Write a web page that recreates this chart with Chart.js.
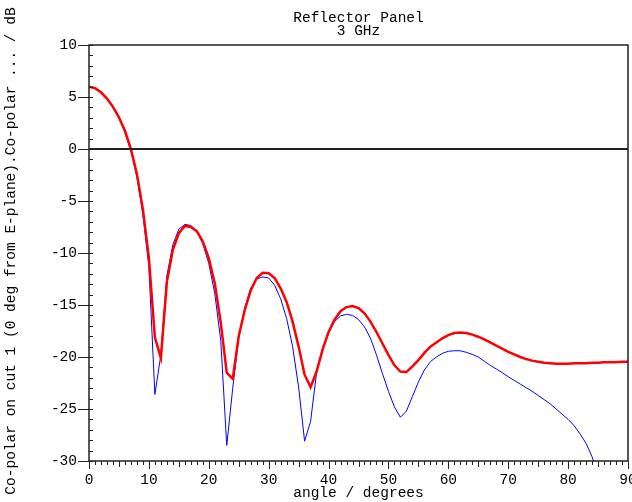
<!DOCTYPE html>
<html>
<head>
<meta charset="utf-8">
<script src="https://cdn.jsdelivr.net/npm/chart.js@4"></script>
<style>
  body { margin: 0; background: #fff; }
  canvas { display: block; }
</style>
</head>
<body>
<canvas id="patternChart" width="632" height="502"></canvas>
<script>
const angles = [
    0, 1, 2, 3, 4, 5, 6, 7, 8, 9,
    10, 11, 12, 13, 14, 15, 16, 17, 18, 19,
    20, 21, 22, 23, 24, 25, 26, 27, 28, 29,
    30, 31, 32, 33, 34, 35, 36, 37, 38, 39,
    40, 41, 42, 43, 44, 45, 46, 47, 48, 49,
    50, 51, 52, 53, 54, 55, 56, 57, 58, 59,
    60, 61, 62, 63, 64, 65, 66, 67, 68, 69,
    70, 71, 72, 73, 74, 75, 76, 77, 78, 79,
    80, 81, 82, 83, 84, 85, 86, 87, 88, 89, 90,
];

// thick red curve
const copolarRed = [
    6.0, 5.85, 5.45, 4.85, 4.05, 3.05, 1.75, 0.0, -2.4, -5.8,
    -10.5, -18.1, -20.1, -12.8, -9.7, -8.1, -7.4, -7.5, -7.9, -8.9,
    -10.5, -12.9, -16.7, -21.5, -22.1, -18.0, -15.5, -13.6, -12.4, -11.9,
    -11.95, -12.4, -13.4, -14.7, -16.6, -19.0, -21.7, -22.9, -21.4, -19.3,
    -17.6, -16.4, -15.6, -15.2, -15.1, -15.3, -15.8, -16.6, -17.6, -18.7,
    -19.8, -20.8, -21.4, -21.45, -20.9, -20.3, -19.6, -19.0, -18.6, -18.2,
    -17.9, -17.7, -17.65, -17.7, -17.85, -18.05, -18.3, -18.6, -18.9, -19.2,
    -19.5, -19.75, -20.0, -20.2, -20.35, -20.45, -20.55, -20.6, -20.65, -20.65,
    -20.65, -20.6, -20.6, -20.6, -20.55, -20.55, -20.5, -20.5, -20.5, -20.45, -20.45,
];

// thin blue curve
const copolarBlue = [
    6.0, 5.85, 5.45, 4.85, 4.05, 3.0, 1.6, -0.2, -2.7, -6.3,
    -11.3, -23.6, -19.8, -12.2, -9.2, -7.7, -7.25, -7.35, -7.9, -9.1,
    -11.0, -13.9, -18.4, -28.5, -23.0, -18.2, -15.3, -13.4, -12.5, -12.3,
    -12.4, -13.1, -14.4, -16.3, -19.0, -22.9, -28.1, -26.2, -21.5, -19.3,
    -17.7, -16.6, -16.05, -15.9, -16.0, -16.4, -17.1, -18.2, -19.8, -21.6,
    -23.3, -24.8, -25.8, -25.2, -23.8, -22.4, -21.25, -20.45, -20.0, -19.65,
    -19.45, -19.4, -19.4, -19.55, -19.75, -20.0, -20.4, -20.8, -21.15, -21.5,
    -21.9, -22.25, -22.6, -22.95, -23.3, -23.7, -24.1, -24.5, -25.0, -25.5,
    -26.0, -26.6, -27.4, -28.3, -29.6, -31.3, -33.3, -35.8, -38.8, -42.5, -47.0,
];

const xTicks = [0, 10, 20, 30, 40, 50, 60, 70, 80, 90];
const yTicks = [-30, -25, -20, -15, -10, -5, 0, 5, 10];
const titleLines = ["Reflector Panel", "3 GHz"];
const xTitle = "angle / degrees";
const yTitle = "Co-polar on cut 1 (0 deg from E-plane).Co-polar ... / dB";

const FAMILY = "'Liberation Mono', 'DejaVu Sans Mono', monospace";
const FONT = "14.5px " + FAMILY;

const framePlugin = {
    id: "frame",
    afterDatasetsDraw(chart) {
        const ctx = chart.ctx;
        const a = chart.chartArea;
        const xs = chart.scales.x;
        const ys = chart.scales.y;
        ctx.save();

        // zero line
        ctx.strokeStyle = "#222";
        ctx.lineWidth = 2;
        const y0 = Math.round(ys.getPixelForValue(0));
        ctx.beginPath();
        ctx.moveTo(a.left, y0);
        ctx.lineTo(a.right, y0);
        ctx.stroke();

        // frame
        ctx.lineWidth = 1.5;
        ctx.strokeRect(a.left, a.top, a.right - a.left, a.bottom - a.top);

        // tick marks
        ctx.lineWidth = 1;
        ctx.beginPath();
        for (let v = 0; v <= 90; v++) {
            const px = Math.round(xs.getPixelForValue(v)) + 0.5;
            const len = v % 10 === 0 ? 8 : v % 5 === 0 ? 6 : 4;
            ctx.moveTo(px, a.bottom);
            ctx.lineTo(px, a.bottom + len);
        }
        for (let v = -30; v <= 10; v++) {
            const py = Math.round(ys.getPixelForValue(v)) + 0.5;
            ctx.moveTo(a.left, py);
            ctx.lineTo(a.left + 4, py);
            if (v % 5 === 0) {
                ctx.moveTo(a.left - 11, py);
                ctx.lineTo(a.left, py);
            }
        }
        ctx.stroke();

        // titles
        ctx.fillStyle = "#000";
        ctx.font = FONT;
        ctx.textAlign = "center";
        ctx.textBaseline = "middle";
        const cx = (a.left + a.right) / 2;
        ctx.fillText(titleLines[0], cx, 18);
        ctx.fillText(titleLines[1], cx, 31);
        ctx.fillText(xTitle, cx, 493);

        ctx.translate(11, (a.top + a.bottom) / 2 - 2);
        ctx.rotate(-Math.PI / 2);
        ctx.fillText(yTitle, 0, 0);
        ctx.restore();
    },
};

document.addEventListener("DOMContentLoaded", function () {
    const ctx = document.getElementById("patternChart");
    if (!ctx) return;

    new Chart(ctx, {
        type: "line",
        data: {
            datasets: [
                {
                    label: "Co-polar 2",
                    data: angles.map((a, i) => ({ x: a, y: copolarRed[i] })),
                    borderColor: "#ff0000",
                    borderWidth: 2.5,
                    pointRadius: 0,
                    tension: 0,
                    fill: false,
                    clip: 0,
                },
                {
                    label: "Co-polar 1",
                    data: angles.map((a, i) => ({ x: a, y: copolarBlue[i] })),
                    borderColor: "#0000ff",
                    borderWidth: 1,
                    pointRadius: 0,
                    tension: 0,
                    fill: false,
                    clip: 0,
                },
            ],
        },
        options: {
            responsive: false,
            animation: false,
            layout: {
                padding: { top: 45, right: 4, left: 0, bottom: 0 },
            },
            plugins: {
                legend: { display: false },
                title: { display: false },
                tooltip: { enabled: false },
            },
            scales: {
                x: {
                    type: "linear",
                    min: 0,
                    max: 90,
                    afterFit: (s) => {
                        s.height = 41;
                        s.paddingLeft = 0;
                        s.paddingRight = 0;
                    },
                    afterBuildTicks: (s) => { s.ticks = xTicks.map((v) => ({ value: v })); },
                    grid: { display: false, drawTicks: false },
                    border: { display: false },
                    ticks: {
                        autoSkip: false,
                        maxRotation: 0,
                        padding: 10,
                        color: "#000",
                        font: { family: FAMILY, size: 14.5 },
                    },
                },
                y: {
                    type: "linear",
                    min: -30,
                    max: 10,
                    afterFit: (s) => {
                        s.width = 89;
                        s.paddingTop = 0;
                        s.paddingBottom = 0;
                    },
                    afterBuildTicks: (s) => { s.ticks = yTicks.map((v) => ({ value: v })); },
                    grid: { display: false, drawTicks: false },
                    border: { display: false },
                    ticks: {
                        padding: 12,
                        color: "#000",
                        font: { family: FAMILY, size: 14.5 },
                    },
                },
            },
        },
        plugins: [framePlugin],
    });
});
</script>
</body>
</html>
